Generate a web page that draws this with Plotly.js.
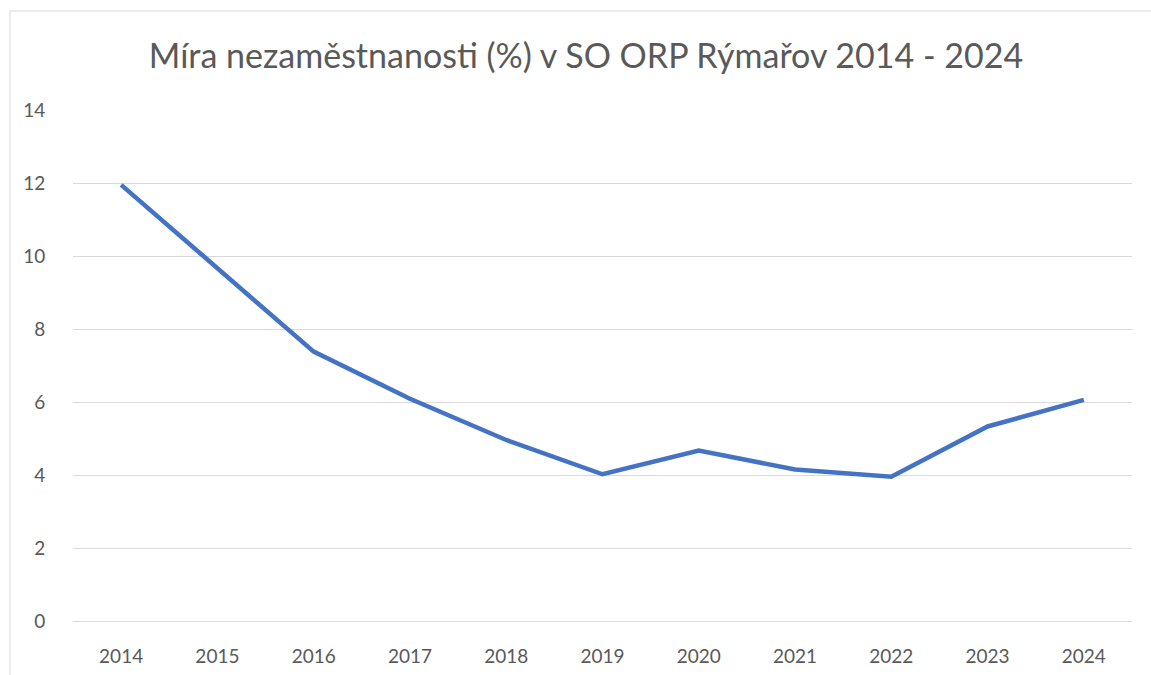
<!DOCTYPE html>
<html>
<head>
<meta charset="utf-8">
<script src="https://cdn.plot.ly/plotly-3.0.1.min.js"></script>
<style>html,body{margin:0;padding:0;background:#fff;}#chart{width:1151px;height:675px;}</style>
</head>
<body>
<div id="chart"></div>
<script>
const years = ["2014","2015","2016","2017","2018","2019","2020","2021","2022","2023","2024"];
const unemployment = [11.95, 9.66, 7.38, 6.09, 4.96, 4.02, 4.67, 4.15, 3.95, 5.33, 6.06];
const yTicks = [0, 2, 4, 6, 8, 10, 12, 14];
const titleText = "Míra nezaměstnanosti (%) v SO ORP Rýmařov 2014 - 2024";

const L = 73, R = 19, T = 110, B = 54, W = 1151, H = 675;
const pw = W - L - R, ph = H - T - B;
const FONT = 'Lato, "Open Sans", sans-serif';

const trace = {
  x: years, y: unemployment, type: 'scatter', mode: 'lines',
  line: {color: '#4472C4', width: 4.5, shape: 'linear'},
  hoverinfo: 'x+y'
};
const layout = {
  width: W, height: H,
  margin: {l: L, r: R, t: T, b: B},
  paper_bgcolor: '#fff', plot_bgcolor: '#fff',
  showlegend: false,
  title: {text: titleText, x: 586 / W, xref: 'container', xanchor: 'center', y: 1 - 56/H, yref: 'container', yanchor: 'middle',
          font: {family: FONT, size: 34, color: '#595959'}},
  xaxis: {type: 'category', range: [-0.5, 10.5], showgrid: false, zeroline: false, showline: false,
          ticks: 'outside', ticklen: 18, tickcolor: 'rgba(0,0,0,0)',
          tickfont: {family: FONT, size: 19, color: '#595959'}},
  yaxis: {range: [0, 14], tickvals: yTicks, showgrid: true, gridcolor: '#d9d9d9', gridwidth: 1,
          zeroline: true, zerolinecolor: '#d9d9d9', zerolinewidth: 1, showline: false,
          ticks: 'outside', ticklen: 23, tickcolor: 'rgba(0,0,0,0)',
          tickfont: {family: FONT, size: 19, color: '#595959'}},
  shapes: [{type: 'rect', xref: 'paper', yref: 'paper',
            x0: (10 - L) / pw, x1: (W + 5 - L) / pw,
            y0: -(H + 5 - T - ph) / ph, y1: 1 + (T - 11) / ph,
            line: {color: '#d9d9d9', width: 1}, fillcolor: 'rgba(0,0,0,0)', layer: 'below'}]
};
Plotly.newPlot('chart', [trace], layout, {displayModeBar: false, staticPlot: true});
</script>
</body>
</html>
